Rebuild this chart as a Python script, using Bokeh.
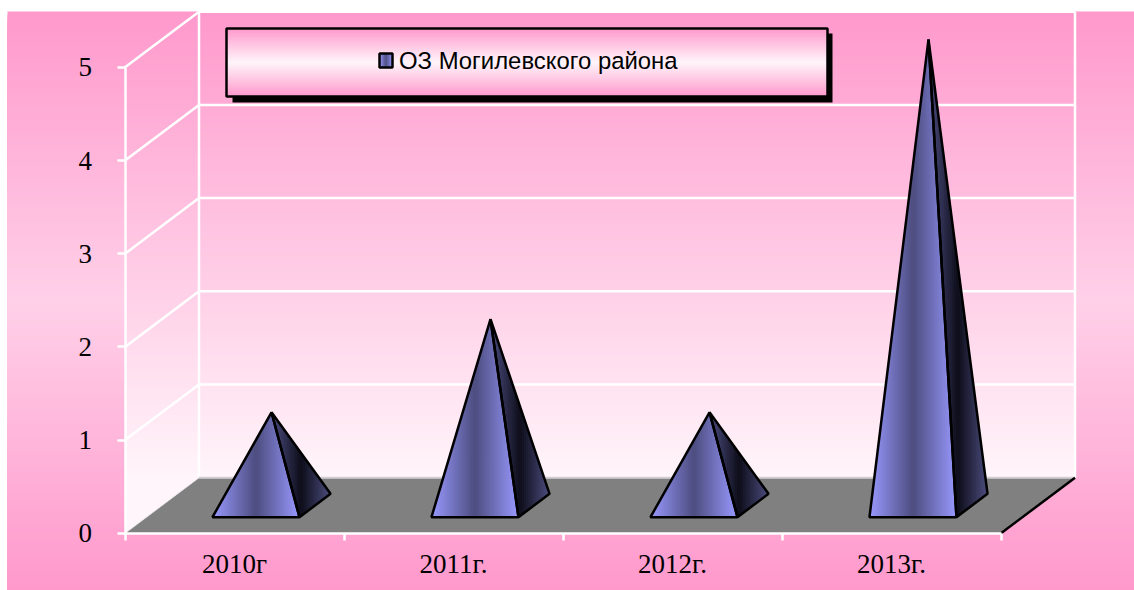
from bokeh.plotting import figure
from bokeh.models import FixedTicker
from bokeh.core.properties import value
from bokeh.embed import file_html
from bokeh.resources import INLINE

categories = ["2010г", "2011г.", "2012г.", "2013г."]
series_name = "ОЗ Могилевского района"
values = [1, 2, 1, 5]
y_ticks = [0, 1, 2, 3, 4, 5]

# page layout (pixels in the window)
PX_X0, PX_UNIT_X = 124.5, 219
PX_Y0, PX_UNIT_Y = 532.8, 93.2
W, H = 1134, 590
ORIGIN = 0


def dx(px):
    return (px - PX_X0) / PX_UNIT_X


def dy(py):
    return (PX_Y0 - py) / PX_UNIT_Y


DEPTH_X = 74 / PX_UNIT_X
DEPTH_Y = 55.6 / PX_UNIT_Y
N_CAT = len(categories)
Y_MAX = max(y_ticks)


def project(x, y, d):
    return x + d * DEPTH_X, y + d * DEPTH_Y


def lerp(c1, c2, t):
    return tuple(a + (b - a) * t for a, b in zip(c1, c2))


def hexc(c):
    return "#%02x%02x%02x" % tuple(int(round(v)) for v in c)


def ramp(stops, t):
    for (t0, c0), (t1, c1) in zip(stops, stops[1:]):
        if t <= t1:
            return lerp(c0, c1, (t - t0) / (t1 - t0))
    return stops[-1][1]


def clip(poly, axis, limit, keep_above):
    out = []
    inside = lambda p: p[axis] >= limit if keep_above else p[axis] <= limit
    for a, b in zip(poly, poly[1:] + poly[:1]):
        ia, ib = inside(a), inside(b)
        if ia:
            out.append(a)
        if ia != ib:
            t = (limit - a[axis]) / (b[axis] - a[axis])
            out.append((a[0] + (b[0] - a[0]) * t, a[1] + (b[1] - a[1]) * t))
    return out


def gradient_patches(p, poly, axis, lo, hi, stops, n):
    """Paint poly with a linear gradient: each strip repaints everything beyond its start."""
    xs, ys, cs = [], [], []
    for k in range(n):
        t = k / n
        if axis == 0:
            part = clip(poly, 0, lo + (hi - lo) * t, True)
        else:
            part = clip(poly, 1, lo + (hi - lo) * t, False)
        if len(part) < 3:
            continue
        xs.append([q[0] for q in part])
        ys.append([q[1] for q in part])
        cs.append(hexc(ramp(stops, (k + 0.5) / n)))
    p.patches(xs, ys, fill_color=cs, line_color=None)


PINK = (255, 153, 204)
LIGHT = (255, 245, 250)
BG_MID = (255, 208, 232)
BLUE = (153, 153, 255)
BLUE_D = (77, 77, 128)
BLUE_K = (13, 13, 26)

p = figure(
    width=W, height=H, output_backend="svg", toolbar_location=None,
    x_range=(dx(ORIGIN), dx(ORIGIN + W)), y_range=(dy(ORIGIN + H), dy(ORIGIN)),
    min_border=0, background_fill_color="white", border_fill_color="white",
)
p.outline_line_color = None
p.grid.visible = False

# outer background
rect = lambda x0, y0, x1, y1: [(dx(x0), dy(y0)), (dx(x1), dy(y0)), (dx(x1), dy(y1)), (dx(x0), dy(y1))]
gradient_patches(p, rect(7, 11, ORIGIN + W, ORIGIN + H), 1, dy(11), dy(ORIGIN + H),
                 [(0, PINK), (0.5, BG_MID), (1, PINK)], 150)

# walls
wall_stops = [(0, PINK), (1, LIGHT)]
back = [project(0, 0, 1), project(N_CAT, 0, 1), project(N_CAT, Y_MAX, 1), project(0, Y_MAX, 1)]
side = [project(0, 0, 0), project(0, 0, 1), project(0, Y_MAX, 1), project(0, Y_MAX, 0)]
top, bottom = project(0, Y_MAX, 1)[1], project(0, 0, 1)[1]
gradient_patches(p, back, 1, top, bottom, wall_stops, 120)
gradient_patches(p, side, 1, top, bottom, wall_stops, 120)

# floor
floor = [project(0, 0, 0), project(N_CAT, 0, 0), project(N_CAT, 0, 1), project(0, 0, 1)]
p.patch([q[0] for q in floor], [q[1] for q in floor], fill_color="#808080", line_color=None)

# grid on the walls
grid = [[project(0, v, 0), project(0, v, 1), project(N_CAT, v, 1)] for v in y_ticks[1:]]
p.multi_line([[q[0] for q in g] for g in grid], [[q[1] for q in g] for g in grid],
             line_color="white", line_width=2.5)
for x in (0, N_CAT):
    a, b = project(x, 0, 1), project(x, Y_MAX, 1)
    p.line([a[0], b[0]], [a[1], b[1]], line_color="white", line_width=2.5)
a, b = project(0, 0, 1), project(N_CAT, 0, 1)
p.line([a[0], b[0]], [a[1], b[1]], line_color="#d4d0d2", line_width=2)
a, b = project(0, 0, 0), project(0, 0, 1)
p.line([a[0], b[0]], [a[1], b[1]], line_color="#e8e8e8", line_width=1)
a, b = project(N_CAT, 0, 0), project(N_CAT, 0, 1)
p.line([a[0], b[0]], [a[1], b[1]], line_color="black", line_width=2.5)

# pyramids
HALF = 43.5 / PX_UNIT_X
FRONT, REAR = 0.29, 0.71
for i, v in enumerate(values):
    c = i + 0.5
    fl = project(c - HALF, 0, FRONT)
    fr = project(c + HALF, 0, FRONT)
    br = project(c + HALF, 0, REAR)
    apex = project(c, v, 0.5)
    face = [fl, fr, apex]
    flank = [fr, br, apex]
    gradient_patches(p, flank, 0, apex[0], br[0],
                     [(0, BLUE_D), (0.5, BLUE_K), (1, BLUE_D)], 30)
    gradient_patches(p, face, 0, fl[0], fr[0],
                     [(0, BLUE), (0.5, BLUE_D), (1, BLUE)], 44)
    for poly in (flank, face):
        p.patch([q[0] for q in poly], [q[1] for q in poly], fill_color=None,
                line_color="black", line_width=2.5)

# legend box
p.patch(*zip(*rect(232, 33, 832, 102)), fill_color="black", line_color=None)
box = rect(226, 28, 827, 96)
gradient_patches(p, box, 1, dy(28), dy(96), [(0, PINK), (0.5, LIGHT), (1, PINK)], 50)
p.patch(*zip(*box), fill_color=None, line_color="black", line_width=2.5)
sym = rect(379, 53, 392, 67)
gradient_patches(p, sym, 0, dx(379), dx(392), [(0, BLUE), (0.5, BLUE_D), (1, BLUE)], 10)
p.patch(*zip(*sym), fill_color=None, line_color="black", line_width=2.5)
p.text([dx(398.5)], [dy(60)], text=[series_name], text_font=value("Liberation Sans"),
       text_font_size="23.9px", text_baseline="middle", text_align="left", text_color="black")

# axes
yaxis = p.yaxis[0]
yaxis.fixed_location = 0
yaxis.ticker = FixedTicker(ticks=y_ticks)
yaxis.bounds = (min(y_ticks), Y_MAX)
yaxis.axis_line_color = "white"
yaxis.axis_line_width = 2.5
yaxis.major_tick_line_color = "white"
yaxis.major_tick_line_width = 2.5
yaxis.major_tick_in = 0
yaxis.major_tick_out = 8
yaxis.minor_tick_line_color = None
yaxis.major_label_standoff = 25
yaxis.major_label_text_font = "Liberation Serif"
yaxis.major_label_text_font_size = "27px"
yaxis.major_label_text_color = "black"

xaxis = p.xaxis[0]
xaxis.fixed_location = 0
xaxis.ticker = FixedTicker(ticks=[i + 0.5 for i in range(N_CAT)], minor_ticks=list(range(N_CAT + 1)))
xaxis.major_label_overrides = {i + 0.5: c for i, c in enumerate(categories)}
xaxis.bounds = (0, N_CAT)
xaxis.axis_line_color = "white"
xaxis.axis_line_width = 2.5
xaxis.major_tick_line_color = None
xaxis.major_tick_in = 0
xaxis.major_tick_out = 0
xaxis.minor_tick_line_color = "white"
xaxis.minor_tick_line_width = 2.5
xaxis.minor_tick_in = 0
xaxis.minor_tick_out = 7
xaxis.major_label_standoff = 9
xaxis.major_label_text_font = "Liberation Serif"
xaxis.major_label_text_font_size = "27px"
xaxis.major_label_text_color = "black"

open("out.html", "w").write(file_html(p, INLINE))
